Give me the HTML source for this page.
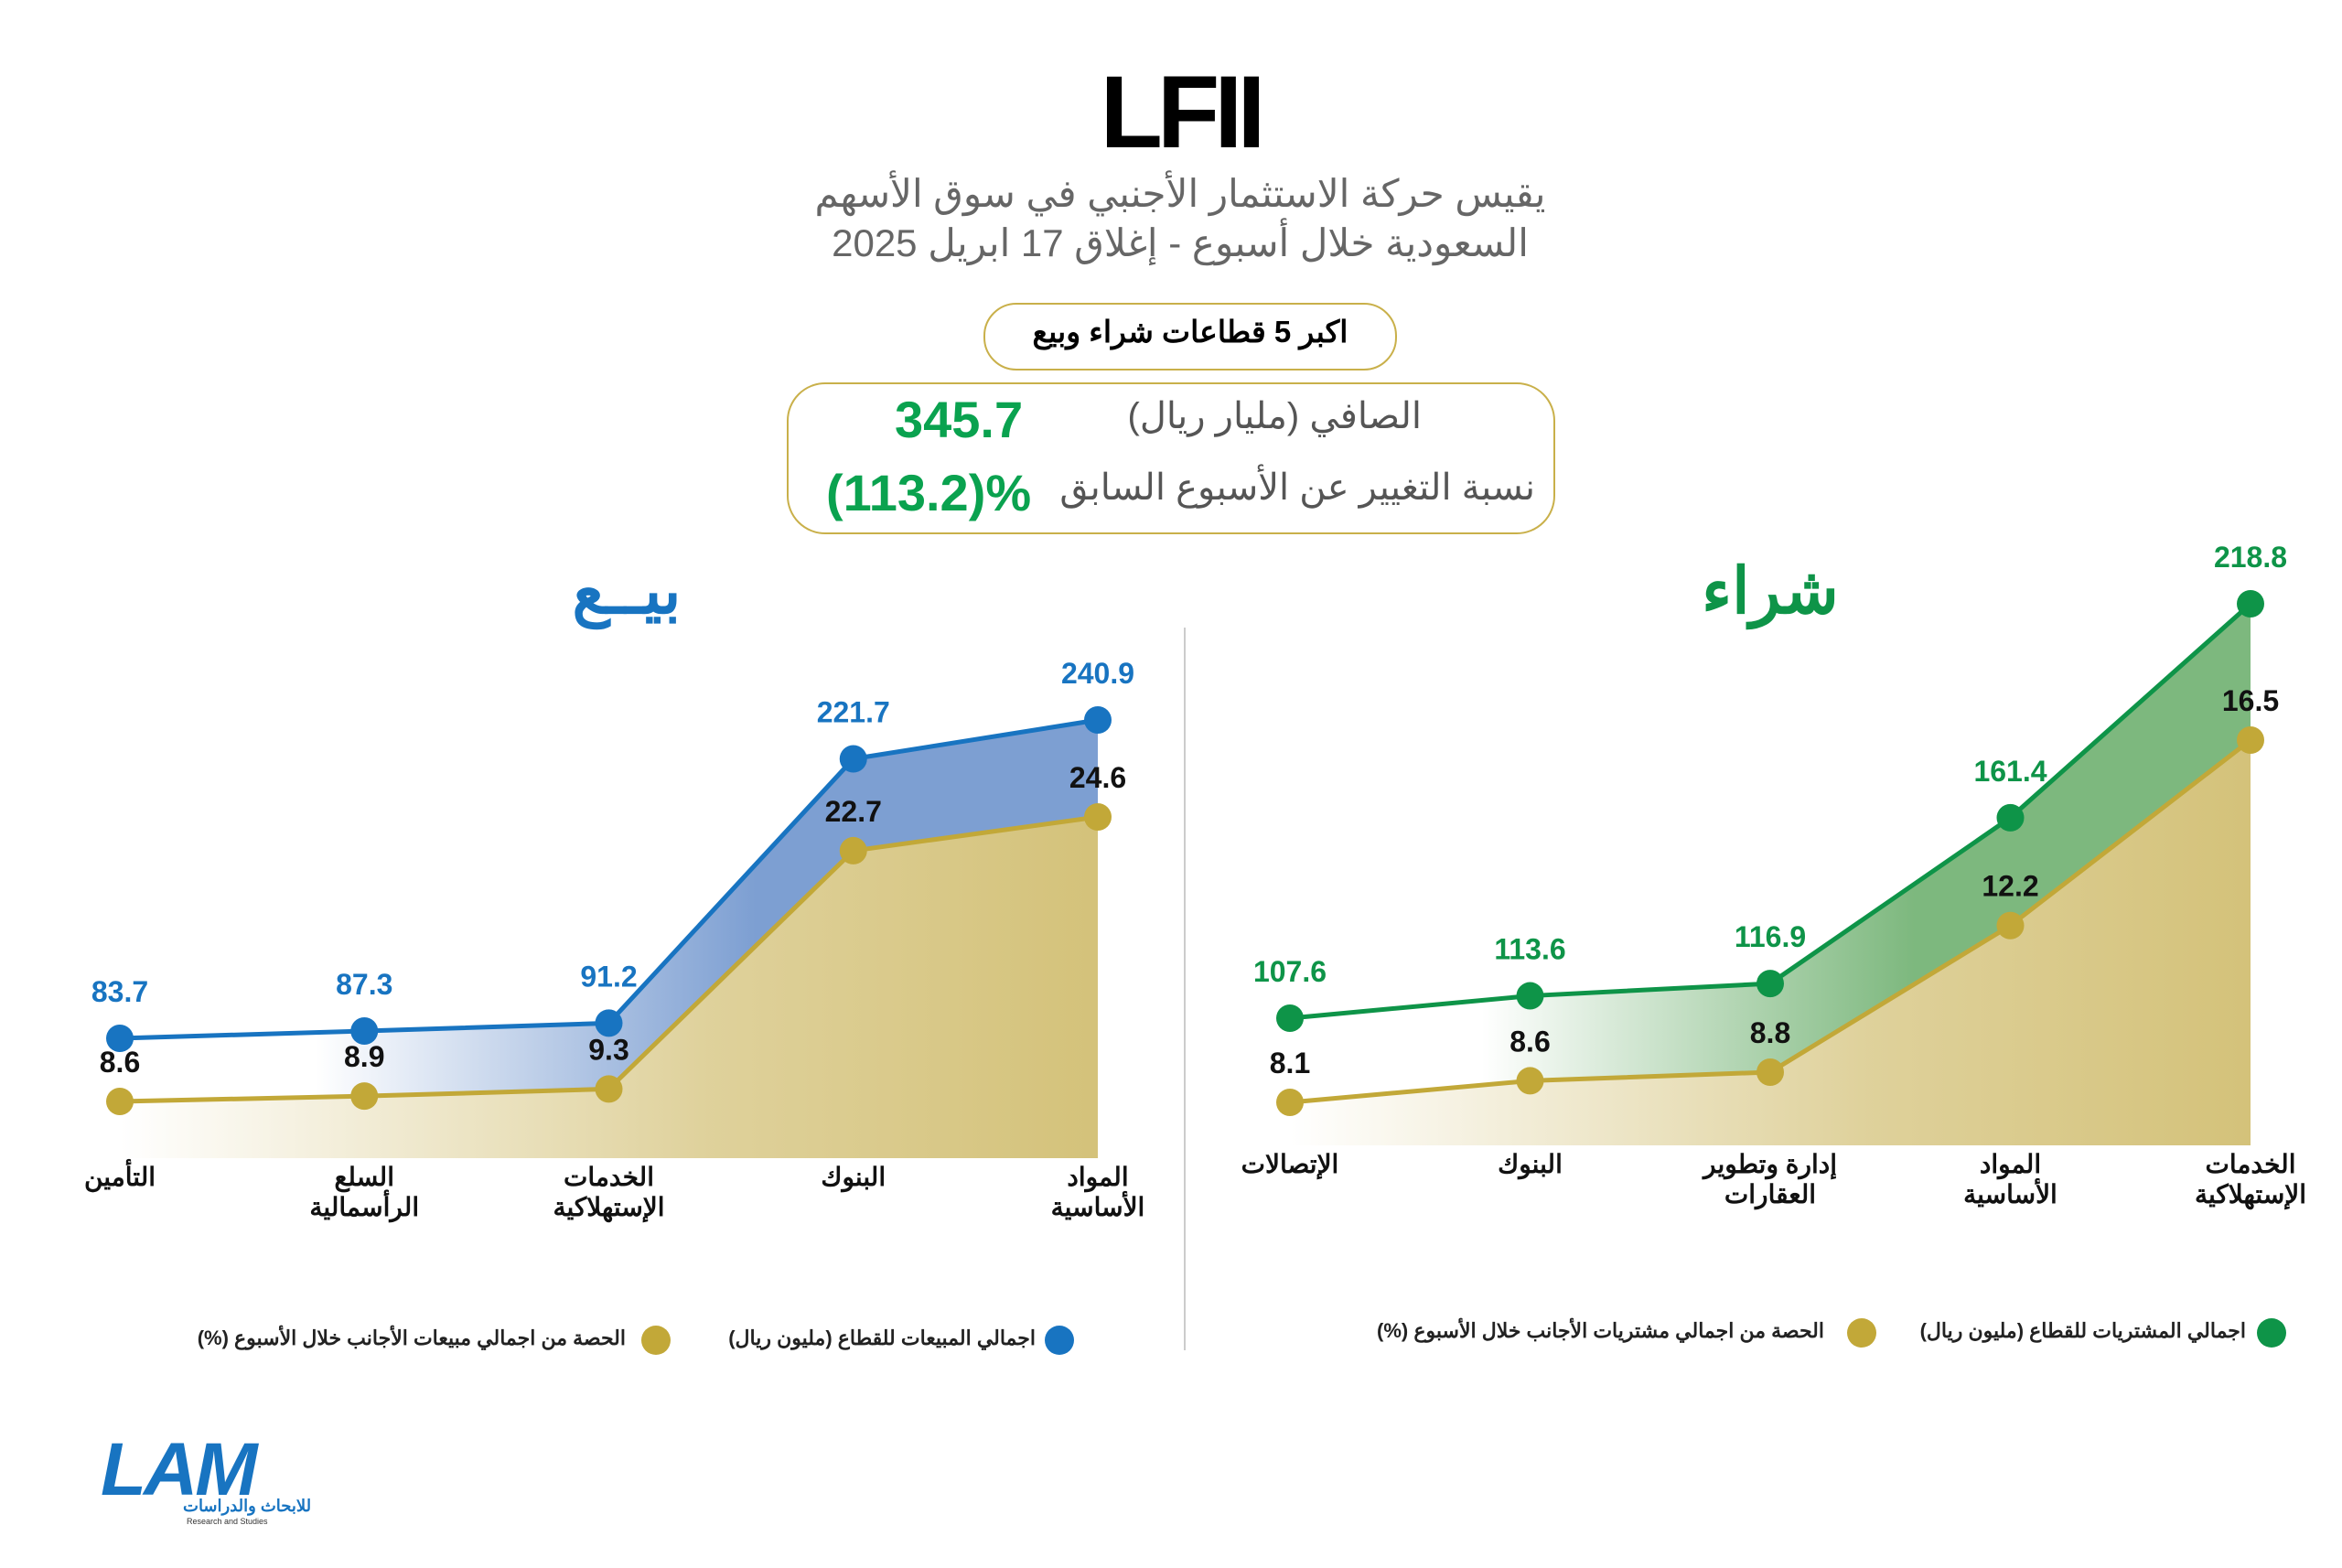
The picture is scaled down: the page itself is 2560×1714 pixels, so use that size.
<!DOCTYPE html>
<html><head><meta charset="utf-8">
<style>
html,body{margin:0;padding:0;background:#fff;}
body{width:2560px;height:1714px;position:relative;overflow:hidden;font-family:"Liberation Sans","Noto Sans CJK SC",sans-serif;}
.t{position:absolute;white-space:nowrap;}
.leg{position:absolute;white-space:nowrap;font-size:22px;font-weight:bold;color:#222;direction:rtl;}
.dot{position:absolute;width:32px;height:32px;border-radius:50%;}
</style></head>
<body>
<div class="t" style="left:0;width:2580px;text-align:center;top:58px;font-size:112px;font-weight:900;color:#000;letter-spacing:-6px;">LFII</div>
<div class="t" style="left:0;width:2580px;text-align:center;top:185px;font-size:42px;line-height:54px;color:#666;direction:rtl;">يقيس حركة الاستثمار الأجنبي في سوق الأسهم<br>السعودية خلال أسبوع - إغلاق  17 ابريل 2025</div>
<div style="position:absolute;left:1075px;top:331px;width:448px;height:70px;border:2px solid #c9b04a;border-radius:36px;"></div>
<div class="t" style="left:1075px;width:452px;text-align:center;top:343px;font-size:33px;font-weight:bold;direction:rtl;">اكبر 5 قطاعات شراء وبيع</div>
<div style="position:absolute;left:860px;top:418px;width:836px;height:162px;border:2px solid #c9b04a;border-radius:42px;"></div>
<div class="t" style="right:1006px;top:432px;font-size:40px;color:#555;direction:rtl;">الصافي (مليار ريال)</div>
<div class="t" style="left:978px;top:426px;font-size:56px;font-weight:bold;color:#0aa24f;">345.7</div>
<div class="t" style="right:882px;top:510px;font-size:40px;color:#555;direction:rtl;">نسبة التغيير عن الأسبوع السابق</div>
<div class="t" style="left:903px;top:506px;font-size:56px;font-weight:bold;color:#0aa24f;direction:ltr;unicode-bidi:bidi-override;">(113.2)%</div>

<div class="t" style="left:560px;width:250px;text-align:center;top:605px;font-size:70px;font-weight:bold;color:#1874c1;">بيــع</div>
<div class="t" style="left:1810px;width:250px;text-align:center;top:605px;font-size:70px;font-weight:bold;color:#0e9448;">شراء</div>
<div style="position:absolute;left:1294px;top:686px;width:2px;height:790px;background:#ccc;"></div>

<svg id="chart" width="2560" height="1714" style="position:absolute;left:0;top:0;">
<defs>
<linearGradient id="gGold" x1="0" x2="1" y1="0" y2="0"><stop offset="0" stop-color="#d4c27a" stop-opacity="0"/><stop offset="0.6" stop-color="#d4c27a" stop-opacity="0.75"/><stop offset="1" stop-color="#d4c27a" stop-opacity="1"/></linearGradient>
<linearGradient id="gBlue" x1="0" x2="1" y1="0" y2="0"><stop offset="0.2" stop-color="#7d9fd2" stop-opacity="0"/><stop offset="0.65" stop-color="#7d9fd2" stop-opacity="1"/><stop offset="1" stop-color="#7d9fd2" stop-opacity="1"/></linearGradient>
<linearGradient id="gGreen" x1="0" x2="1" y1="0" y2="0"><stop offset="0.2" stop-color="#7db87e" stop-opacity="0"/><stop offset="0.65" stop-color="#7db87e" stop-opacity="1"/><stop offset="1" stop-color="#7db87e" stop-opacity="1"/></linearGradient>
</defs>
</svg>

<div class="dot" style="left:1142px;top:1449px;background:#1874c1;"></div>
<div class="leg" style="right:1428px;top:1450px;">اجمالي المبيعات للقطاع (مليون ريال)</div>
<div class="dot" style="left:701px;top:1449px;background:#c2a838;"></div>
<div class="leg" style="right:1876px;top:1450px;">الحصة من اجمالي مبيعات الأجانب خلال الأسبوع (%)</div>
<div class="dot" style="left:2467px;top:1441px;background:#0e9448;"></div>
<div class="leg" style="right:105px;top:1442px;">اجمالي المشتريات للقطاع (مليون ريال)</div>
<div class="dot" style="left:2019px;top:1441px;background:#c2a838;"></div>
<div class="leg" style="right:566px;top:1442px;">الحصة من اجمالي مشتريات الأجانب خلال الأسبوع (%)</div>

<div class="t" style="left:110px;top:1560px;font-size:82px;font-weight:900;color:#1874c1;letter-spacing:-3px;font-style:italic;">LAM</div>
<div class="t" style="left:200px;top:1636px;font-size:18px;font-weight:bold;color:#1874c1;">للابحاث والدراسات</div>
<div class="t" style="left:204px;top:1658px;font-size:9px;color:#333;">Research and Studies</div>

<script>
// Sell chart data
const sellCategories = ["التأمين","السلع\nالرأسمالية","الخدمات\nالإستهلاكية","البنوك","المواد\nالأساسية"];
const sellTotals = [83.7, 87.3, 91.2, 221.7, 240.9];
const sellShares = [8.6, 8.9, 9.3, 22.7, 24.6];
// Buy chart data
const buyCategories = ["الإتصالات","البنوك","إدارة وتطوير\nالعقارات","المواد\nالأساسية","الخدمات\nالإستهلاكية"];
const buyTotals = [107.6, 113.6, 116.9, 161.4, 218.8];
const buyShares = [8.1, 8.6, 8.8, 12.2, 16.5];

const svg = document.getElementById('chart');
const NS = 'http://www.w3.org/2000/svg';
function mk(tag, attrs){const e=document.createElementNS(NS,tag);for(const k in attrs)e.setAttribute(k,attrs[k]);svg.appendChild(e);return e;}
function lin(d0,d1,r0,r1){return v=>r0+(v-d0)*(r1-r0)/(d1-d0);}

function drawChart(cfg){
  const n = cfg.cats.length;
  const x = i => cfg.x0 + i*(cfg.x1-cfg.x0)/(n-1);
  const yT = lin(cfg.tDom[0],cfg.tDom[1],cfg.tRange[0],cfg.tRange[1]);
  const yS = lin(cfg.sDom[0],cfg.sDom[1],cfg.sRange[0],cfg.sRange[1]);
  const tp = cfg.totals.map((v,i)=>[x(i),yT(v)]);
  const sp = cfg.shares.map((v,i)=>[x(i),yS(v)]);
  let d='M'+sp.map(p=>p.join(',')).join(' L')+` L${x(n-1)},${cfg.base} L${x(0)},${cfg.base} Z`;
  let a=mk('path',{d:d,fill:'url(#gGold)'});
  
  
  d='M'+tp.map(p=>p.join(',')).join(' L')+' L'+sp.slice().reverse().map(p=>p.join(',')).join(' L')+' Z';
  a=mk('path',{d:d,fill:cfg.band});
  
  
  let l=mk('polyline',{points:sp.map(p=>p.join(',')).join(' '),fill:'none',stroke:'#c2a838','stroke-width':5});
  
  
  l=mk('polyline',{points:tp.map(p=>p.join(',')).join(' '),fill:'none',stroke:cfg.color,'stroke-width':5});
  
  
  sp.forEach((p,i)=>{
    const c=mk('circle',{cx:p[0],cy:p[1],r:15,fill:'#c2a838'});
    
    
    const t=mk('text',{x:p[0],y:p[1]-32,'text-anchor':'middle','font-size':32,'font-weight':'bold',fill:'#111','font-family':'Liberation Sans'});
    t.textContent=cfg.shares[i].toFixed(1);
    
    
  });
  tp.forEach((p,i)=>{
    const c=mk('circle',{cx:p[0],cy:p[1],r:15,fill:cfg.color});
    
    
    const t=mk('text',{x:p[0],y:p[1]-40,'text-anchor':'middle','font-size':32,'font-weight':'bold',fill:cfg.color,'font-family':'Liberation Sans'});
    t.textContent=cfg.totals[i].toFixed(1);
    
    
  });
  cfg.cats.forEach((c,i)=>{
    c.split('\n').forEach((ln,j)=>{
      const t=mk('text',{x:x(i),y:cfg.base+30+j*33,'text-anchor':'middle','font-size':28,'font-weight':'bold',fill:'#111','font-family':'Liberation Sans, Noto Sans CJK SC, sans-serif',direction:'rtl'});
      t.textContent=ln;
      
      
    });
  });
}

drawChart({prefix:'sell',cats:sellCategories,totals:sellTotals,shares:sellShares,
  x0:131,x1:1200,tDom:[83.7,240.9],tRange:[1135,787],sDom:[8.6,24.6],sRange:[1204,893],
  base:1266,color:'#1874c1',band:'url(#gBlue)'});
drawChart({prefix:'buy',cats:buyCategories,totals:buyTotals,shares:buyShares,
  x0:1410,x1:2460,tDom:[107.6,218.8],tRange:[1113,660],sDom:[8.1,16.5],sRange:[1205,809],
  base:1252,color:'#0e9448',band:'url(#gGreen)'});
</script>
</body></html>
